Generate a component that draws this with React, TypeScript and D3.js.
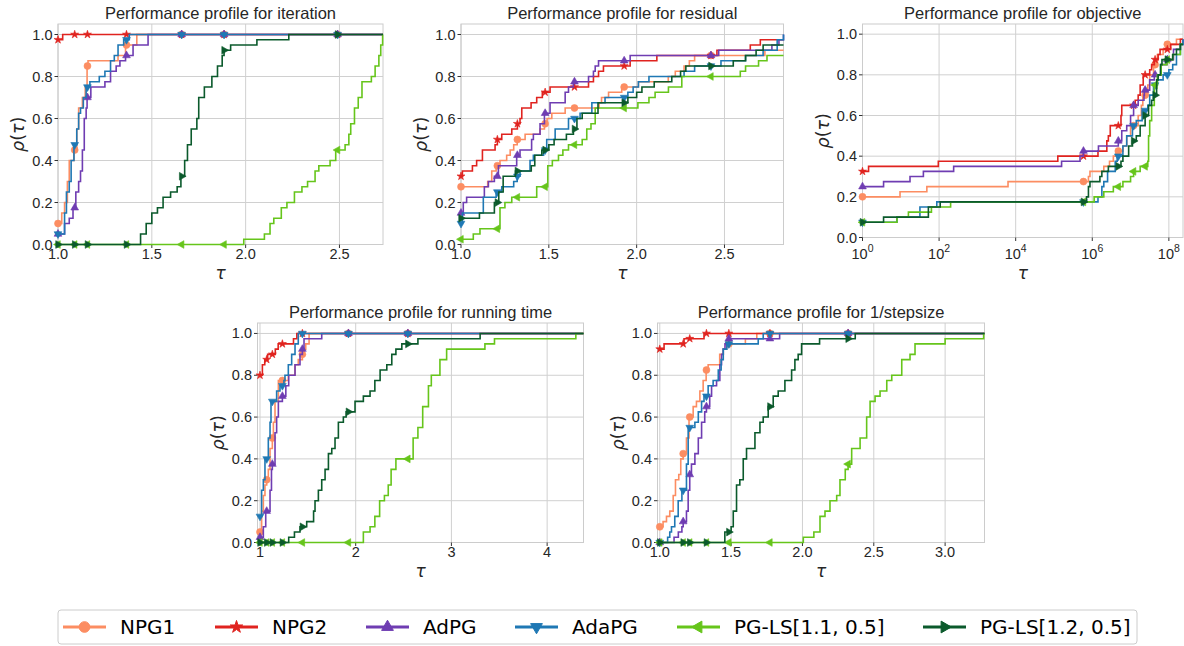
import React from 'react'
import * as d3 from 'd3'

type Pt = [number, number]

const methods = ['NPG1', 'NPG2', 'AdPG', 'AdaPG', 'PG-LS[1.1, 0.5]', 'PG-LS[1.2, 0.5]']
const colors = ['#fc8d62', '#e0231f', '#6f3db2', '#1f78b4', '#66c51b', '#0b5a2c']
const shapes = ['circle', 'star', 'up', 'down', 'left', 'right']

const rhoTicks = [0, 0.2, 0.4, 0.6, 0.8, 1.0]

// iteration
const iterTicks = [1.0, 1.5, 2.0, 2.5]
const iterMarks = [1.0, 1.089, 1.157, 1.365, 1.659, 1.885, 2.49]
const iterNPG1: Pt[] = [[1, 0.1], [1.02, 0.15], [1.035, 0.2], [1.05, 0.3], [1.06, 0.4], [1.085, 0.45], [1.1, 0.55], [1.11, 0.65], [1.13, 0.7], [1.145, 0.75], [1.155, 0.85], [1.16, 0.875], [1.32, 0.9], [1.36, 0.95], [1.42, 1.0]]
const iterNPG2: Pt[] = [[1, 0.975], [1.025, 1.0]]
const iterAdPG: Pt[] = [[1, 0.05], [1.035, 0.1], [1.06, 0.125], [1.08, 0.175], [1.095, 0.25], [1.11, 0.3], [1.12, 0.35], [1.13, 0.45], [1.14, 0.6], [1.15, 0.65], [1.155, 0.7], [1.175, 0.75], [1.25, 0.775], [1.28, 0.825], [1.31, 0.85], [1.33, 0.875], [1.36, 0.9], [1.4, 0.95], [1.48, 1.0]]
const iterAdaPG: Pt[] = [[1, 0.05], [1.035, 0.15], [1.045, 0.25], [1.06, 0.3], [1.07, 0.4], [1.085, 0.475], [1.1, 0.55], [1.11, 0.625], [1.12, 0.65], [1.135, 0.7], [1.15, 0.75], [1.17, 0.775], [1.22, 0.8], [1.25, 0.825], [1.28, 0.875], [1.3, 0.9], [1.32, 0.95], [1.35, 0.975], [1.38, 1.0]]
const iterLS11: Pt[] = [[1, 0], [1.99, 0.025], [2.1, 0.05], [2.13, 0.1], [2.15, 0.125], [2.19, 0.175], [2.22, 0.2], [2.26, 0.25], [2.3, 0.275], [2.33, 0.3], [2.37, 0.35], [2.39, 0.375], [2.45, 0.4], [2.48, 0.45], [2.53, 0.475], [2.55, 0.525], [2.56, 0.575], [2.58, 0.65], [2.6, 0.7], [2.62, 0.775], [2.67, 0.8], [2.69, 0.85], [2.71, 0.9], [2.72, 0.95], [2.73, 1.0]]
const iterLS12: Pt[] = [[1, 0], [1.44, 0.05], [1.47, 0.1], [1.5, 0.15], [1.53, 0.175], [1.56, 0.225], [1.6, 0.25], [1.635, 0.275], [1.655, 0.325], [1.675, 0.4], [1.69, 0.475], [1.71, 0.55], [1.74, 0.6], [1.75, 0.7], [1.78, 0.75], [1.82, 0.8], [1.85, 0.85], [1.875, 0.9], [1.885, 0.925], [1.92, 0.95], [2.06, 0.975], [2.23, 1.0]]

// residual
const resTicks = [1.0, 1.5, 2.0, 2.5]
const resMarks = [1.0, 1.207, 1.321, 1.479, 1.646, 1.929, 2.423]
const resNPG1: Pt[] = [[1, 0.275], [1.152, 0.3], [1.175, 0.35], [1.2, 0.375], [1.222, 0.4], [1.26, 0.425], [1.28, 0.45], [1.3, 0.475], [1.32, 0.5], [1.365, 0.525], [1.45, 0.55], [1.475, 0.575], [1.49, 0.6], [1.517, 0.625], [1.593, 0.65], [1.786, 0.675], [1.8, 0.7], [1.84, 0.725], [1.915, 0.75], [2.01, 0.775], [2.18, 0.8], [2.22, 0.825], [2.27, 0.85], [2.3, 0.875], [2.33, 0.9], [2.73, 0.925]]
const resNPG2: Pt[] = [[1, 0.325], [1.008, 0.35], [1.065, 0.375], [1.089, 0.4], [1.122, 0.45], [1.194, 0.475], [1.207, 0.5], [1.232, 0.525], [1.289, 0.55], [1.321, 0.575], [1.336, 0.6], [1.346, 0.65], [1.399, 0.675], [1.431, 0.7], [1.463, 0.725], [1.507, 0.75], [1.726, 0.775], [1.754, 0.8], [1.783, 0.825], [1.811, 0.85], [1.963, 0.875], [2.115, 0.9], [2.457, 0.925], [2.647, 0.95], [2.704, 0.975]]
const resAdPG: Pt[] = [[1, 0.15], [1.013, 0.2], [1.032, 0.225], [1.133, 0.275], [1.156, 0.3], [1.19, 0.325], [1.213, 0.375], [1.317, 0.425], [1.336, 0.45], [1.402, 0.5], [1.412, 0.525], [1.45, 0.575], [1.475, 0.625], [1.507, 0.675], [1.593, 0.725], [1.612, 0.75], [1.64, 0.775], [1.726, 0.8], [1.754, 0.825], [1.764, 0.85], [1.783, 0.875], [1.963, 0.9], [2.467, 0.925], [2.77, 0.95], [2.81, 0.975], [2.836, 1.0]]
const resAdaPG: Pt[] = [[1, 0.1], [1.008, 0.15], [1.127, 0.225], [1.2, 0.25], [1.232, 0.275], [1.3, 0.3], [1.32, 0.325], [1.336, 0.35], [1.393, 0.4], [1.412, 0.425], [1.47, 0.45], [1.488, 0.5], [1.536, 0.55], [1.612, 0.6], [1.678, 0.625], [1.745, 0.675], [1.82, 0.7], [1.95, 0.725], [1.98, 0.75], [2.01, 0.775], [2.07, 0.8], [2.27, 0.825], [2.33, 0.85], [2.48, 0.875], [2.62, 0.9], [2.72, 0.925], [2.8, 0.975], [2.836, 1.0]]
const resLS11: Pt[] = [[1, 0.025], [1.07, 0.05], [1.108, 0.075], [1.222, 0.175], [1.25, 0.2], [1.289, 0.225], [1.431, 0.275], [1.494, 0.375], [1.52, 0.4], [1.555, 0.425], [1.58, 0.45], [1.612, 0.475], [1.69, 0.5], [1.716, 0.55], [1.74, 0.575], [1.764, 0.65], [2.007, 0.675], [2.07, 0.7], [2.105, 0.725], [2.181, 0.75], [2.257, 0.8], [2.59, 0.825], [2.62, 0.85], [2.694, 0.875], [2.742, 0.9]]
const resLS12: Pt[] = [[1, 0.125], [1.105, 0.15], [1.19, 0.2], [1.215, 0.25], [1.24, 0.325], [1.31, 0.35], [1.4, 0.375], [1.42, 0.425], [1.46, 0.45], [1.5, 0.475], [1.53, 0.5], [1.6, 0.525], [1.64, 0.55], [1.66, 0.6], [1.69, 0.625], [1.78, 0.675], [1.95, 0.7], [2.0, 0.725], [2.03, 0.75], [2.1, 0.775], [2.2, 0.8], [2.25, 0.825], [2.28, 0.85], [2.55, 0.875], [2.62, 0.9], [2.68, 0.925], [2.72, 0.95]]

// objective (log tau)
const objTicks = [1, 1e2, 1e4, 1e6, 1e8]
const objMarks = [1, 5.89e5, 4.79e6, 1.2e7, 2.4e7, 4.37e7, 9.12e7]
const objNPG1: Pt[] = [[1, 0.2], [9.55, 0.225], [47.9, 0.25], [6310, 0.275], [7.94e5, 0.3], [8.71e5, 0.325], [2.0e6, 0.35], [2.82e6, 0.375], [3.55e6, 0.4], [4.17e6, 0.425], [6.31e6, 0.45], [7.94e6, 0.5], [1.0e7, 0.55], [1.58e7, 0.6], [1.91e7, 0.65], [2.09e7, 0.7], [2.82e7, 0.75], [3.16e7, 0.8], [3.98e7, 0.85], [5.01e7, 0.9], [7.08e7, 0.925], [8.32e7, 0.95], [1.58e8, 0.975]]
const objNPG2: Pt[] = [[1, 0.325], [1.44, 0.35], [95.5, 0.375], [1.26e5, 0.4], [1.41e6, 0.425], [2.4e6, 0.475], [2.63e6, 0.5], [2.95e6, 0.55], [5.62e6, 0.6], [5.89e6, 0.65], [1.32e7, 0.675], [1.58e7, 0.7], [1.78e7, 0.75], [2.14e7, 0.8], [3.16e7, 0.825], [3.55e7, 0.85], [4.17e7, 0.875], [5.25e7, 0.9], [5.89e7, 0.925], [1.12e8, 0.95], [2.0e8, 0.975]]
const objAdPG: Pt[] = [[1, 0.25], [3.55, 0.275], [17.4, 0.3], [38.9, 0.325], [240, 0.35], [1.58e5, 0.375], [4.79e5, 0.4], [5.89e5, 0.425], [1.45e6, 0.45], [4.79e6, 0.475], [5.89e6, 0.525], [7.94e6, 0.55], [1.0e7, 0.6], [1.2e7, 0.65], [1.58e7, 0.675], [2.24e7, 0.7], [2.29e7, 0.725], [3.16e7, 0.775], [4.17e7, 0.8], [6.31e7, 0.85], [8.91e7, 0.875], [1.32e8, 0.925], [2.0e8, 0.95], [2.34e8, 0.975]]
const objAdaPG: Pt[] = [[1, 0.075], [7.94, 0.1], [31.6, 0.15], [87.1, 0.175], [1.41e6, 0.2], [1.78e6, 0.25], [2.0e6, 0.275], [2.51e6, 0.325], [3.98e6, 0.375], [4.47e6, 0.4], [6.31e6, 0.45], [7.94e6, 0.5], [1.12e7, 0.55], [1.41e7, 0.575], [2.0e7, 0.625], [2.82e7, 0.65], [3.16e7, 0.7], [3.98e7, 0.75], [5.01e7, 0.775], [7.08e7, 0.8], [1.0e8, 0.825], [1.26e8, 0.85], [1.58e8, 0.9], [2.0e8, 0.95], [2.34e8, 0.975]]
const objLS11: Pt[] = [[1, 0.075], [7.94, 0.1], [15.8, 0.125], [63.1, 0.15], [200, 0.175], [1.12e6, 0.2], [2.0e6, 0.225], [3.55e6, 0.25], [6.31e6, 0.275], [1.0e7, 0.3], [1.2e7, 0.325], [1.78e7, 0.35], [2.82e7, 0.375], [2.95e7, 0.5], [3.16e7, 0.575], [3.55e7, 0.65], [4.17e7, 0.75], [5.01e7, 0.8], [6.31e7, 0.85], [8.91e7, 0.875], [1.26e8, 0.9], [2.0e8, 0.95]]
const objLS12: Pt[] = [[1, 0.075], [3.55, 0.1], [52.5, 0.15], [107, 0.175], [7.08e5, 0.2], [7.94e5, 0.25], [8.71e5, 0.275], [1.58e6, 0.3], [1.78e6, 0.325], [2.63e6, 0.35], [5.62e6, 0.375], [6.31e6, 0.4], [8.91e6, 0.45], [1.12e7, 0.475], [1.41e7, 0.5], [1.78e7, 0.55], [2.4e7, 0.6], [2.95e7, 0.65], [3.55e7, 0.675], [3.98e7, 0.7], [4.79e7, 0.775], [5.25e7, 0.8], [6.03e7, 0.85], [6.61e7, 0.875], [1.26e8, 0.9], [1.58e8, 0.925], [2.0e8, 0.95]]

// running time
const runTicks = [1, 2, 3, 4]
const runMarks = [1.0, 1.07, 1.129, 1.234, 1.443, 1.924, 2.545]
const runNPG1: Pt[] = [[1, 0.05], [1.017, 0.15], [1.035, 0.225], [1.052, 0.275], [1.07, 0.3], [1.087, 0.35], [1.105, 0.45], [1.129, 0.5], [1.14, 0.575], [1.157, 0.675], [1.192, 0.775], [1.296, 0.8], [1.366, 0.85], [1.4, 0.875], [1.443, 0.9], [1.46, 0.925], [1.478, 0.95], [1.513, 1.0]]
const runNPG2: Pt[] = [[1, 0.8], [1.025, 0.85], [1.05, 0.875], [1.08, 0.9], [1.16, 0.925], [1.19, 0.95], [1.35, 0.975], [1.385, 1.0]]
const runAdPG: Pt[] = [[1, 0.025], [1.035, 0.075], [1.06, 0.15], [1.105, 0.25], [1.12, 0.35], [1.129, 0.375], [1.157, 0.525], [1.174, 0.6], [1.192, 0.675], [1.234, 0.7], [1.27, 0.75], [1.3, 0.8], [1.366, 0.85], [1.418, 0.9], [1.443, 0.925], [1.46, 0.975], [1.645, 1.0]]
const runAdaPG: Pt[] = [[1, 0.125], [1.017, 0.25], [1.035, 0.3], [1.052, 0.4], [1.087, 0.5], [1.105, 0.575], [1.115, 0.675], [1.174, 0.725], [1.209, 0.75], [1.25, 0.775], [1.261, 0.8], [1.296, 0.85], [1.331, 0.9], [1.366, 0.95], [1.4, 1.0]]
const runLS11: Pt[] = [[1, 0], [2.08, 0.05], [2.15, 0.075], [2.2, 0.125], [2.25, 0.2], [2.3, 0.225], [2.34, 0.275], [2.37, 0.35], [2.42, 0.4], [2.6, 0.5], [2.65, 0.55], [2.7, 0.65], [2.76, 0.75], [2.79, 0.8], [2.88, 0.875], [2.95, 0.925], [3.35, 0.95], [3.45, 0.975], [4.3, 1.0]]
const runLS12: Pt[] = [[1, 0], [1.3, 0.025], [1.36, 0.05], [1.418, 0.075], [1.488, 0.1], [1.56, 0.15], [1.575, 0.2], [1.61, 0.25], [1.645, 0.3], [1.68, 0.35], [1.715, 0.425], [1.75, 0.45], [1.784, 0.5], [1.819, 0.575], [1.871, 0.6], [1.9, 0.625], [1.993, 0.675], [2.08, 0.7], [2.15, 0.725], [2.2, 0.775], [2.255, 0.825], [2.325, 0.85], [2.377, 0.9], [2.42, 0.925], [2.482, 0.95], [2.65, 0.975], [3.3, 1.0]]

// 1/stepsize
const stepTicks = [1.0, 1.5, 2.0, 2.5, 3.0]
const stepMarks = [1.0, 1.164, 1.21, 1.327, 1.484, 1.772, 2.32]
const stepNPG1: Pt[] = [[1, 0.075], [1.023, 0.1], [1.047, 0.125], [1.07, 0.15], [1.094, 0.225], [1.11, 0.3], [1.133, 0.325], [1.147, 0.4], [1.164, 0.425], [1.187, 0.5], [1.205, 0.6], [1.234, 0.65], [1.257, 0.675], [1.281, 0.725], [1.304, 0.775], [1.325, 0.825], [1.339, 0.85], [1.42, 0.9], [1.445, 0.925], [1.468, 0.95], [1.6, 0.975], [1.68, 1.0]]
const stepNPG2: Pt[] = [[1, 0.925], [1.03, 0.95], [1.17, 0.975], [1.31, 1.0]]
const stepAdPG: Pt[] = [[1, 0], [1.1, 0.025], [1.13, 0.05], [1.155, 0.075], [1.164, 0.1], [1.187, 0.15], [1.199, 0.25], [1.21, 0.325], [1.222, 0.375], [1.246, 0.425], [1.27, 0.5], [1.293, 0.575], [1.315, 0.625], [1.327, 0.65], [1.35, 0.7], [1.363, 0.75], [1.398, 0.775], [1.421, 0.85], [1.433, 0.9], [1.445, 0.925], [1.457, 0.95], [1.484, 0.975], [1.84, 1.0]]
const stepAdaPG: Pt[] = [[1, 0], [1.055, 0.025], [1.07, 0.05], [1.082, 0.075], [1.105, 0.125], [1.129, 0.2], [1.155, 0.25], [1.187, 0.375], [1.199, 0.55], [1.246, 0.575], [1.27, 0.625], [1.293, 0.675], [1.31, 0.7], [1.339, 0.75], [1.374, 0.775], [1.41, 0.825], [1.43, 0.875], [1.445, 0.925], [1.47, 0.95], [1.69, 0.975], [1.725, 1.0]]
const stepLS11: Pt[] = [[1, 0], [2.006, 0.025], [2.08, 0.05], [2.123, 0.125], [2.158, 0.15], [2.193, 0.2], [2.24, 0.225], [2.263, 0.3], [2.3, 0.35], [2.32, 0.375], [2.345, 0.45], [2.404, 0.5], [2.45, 0.6], [2.474, 0.675], [2.509, 0.7], [2.544, 0.725], [2.591, 0.775], [2.626, 0.8], [2.696, 0.875], [2.754, 0.9], [2.789, 0.95], [3.0, 0.975], [3.27, 1.0]]
const stepLS12: Pt[] = [[1, 0], [1.456, 0.05], [1.5, 0.075], [1.515, 0.15], [1.538, 0.275], [1.561, 0.3], [1.585, 0.4], [1.608, 0.45], [1.667, 0.525], [1.702, 0.575], [1.725, 0.6], [1.76, 0.65], [1.795, 0.7], [1.83, 0.725], [1.877, 0.775], [1.924, 0.825], [1.947, 0.875], [1.97, 0.9], [1.994, 0.95], [2.12, 0.975], [2.37, 1.0]]

const panels = [
  {
    title: 'Performance profile for iteration', log: false, domain: [1, 2.732], ticks: iterTicks, marks: iterMarks,
    box: { left: 58, top: 24, width: 325, height: 220.5 },
    series: [iterNPG1, iterNPG2, iterAdPG, iterAdaPG, iterLS11, iterLS12],
  },
  {
    title: 'Performance profile for residual', log: false, domain: [1, 2.836], ticks: resTicks, marks: resMarks,
    box: { left: 461, top: 24, width: 322.5, height: 220.5 },
    series: [resNPG1, resNPG2, resAdPG, resAdaPG, resLS11, resLS12],
  },
  {
    title: 'Performance profile for objective', log: true, domain: [1, 2.34e8], ticks: objTicks, marks: objMarks,
    box: { left: 862.5, top: 24, width: 320.5, height: 213.5 },
    series: [objNPG1, objNPG2, objAdPG, objAdaPG, objLS11, objLS12],
  },
  {
    title: 'Performance profile for running time', log: false, domain: [0.974, 4.38], ticks: runTicks, marks: runMarks,
    box: { left: 257.5, top: 323, width: 326, height: 219.5 },
    series: [runNPG1, runNPG2, runAdPG, runAdaPG, runLS11, runLS12],
  },
  {
    title: 'Performance profile for 1/stepsize', log: false, domain: [0.984, 3.276], ticks: stepTicks, marks: stepMarks,
    box: { left: 657.5, top: 323, width: 327, height: 219.5 },
    series: [stepNPG1, stepNPG2, stepAdPG, stepAdaPG, stepLS11, stepLS12],
  },
]

const sansFont = '"Liberation Sans", Arial, sans-serif'
const dejaFont = '"DejaVu Sans", sans-serif'
const ink = '#262626'

function symbolPath(shape, size) {
  const type = shape === 'circle' ? d3.symbolCircle : shape === 'star' ? d3.symbolStar : d3.symbolTriangle
  return d3.symbol().type(type).size(size)()
}
const rotation = { circle: 0, star: 0, up: 0, down: 180, left: -90, right: 90 }

function valueAt(s: Pt[], t: number) {
  let r = s[0][1]
  for (const d of s) if (d[0] <= t * (1 + 1e-9)) r = d[1]
  return r
}

function Panel({ p }) {
  const { left, top, width, height } = p.box
  const bottom = top + height
  const x = (p.log ? d3.scaleLog() : d3.scaleLinear()).domain(p.domain).range([left, left + width])
  const y = d3.scaleLinear().domain([0, 1.05]).range([bottom, top])
  const line = d3.line<Pt>().x(d => x(d[0])).y(d => y(d[1])).curve(d3.curveStepAfter)
  const xMax = p.domain[1]
  const intTicks = p.ticks.every(v => Number.isInteger(v))

  return (
    <g>
      <text x={left + width / 2} y={top - 5.5} textAnchor="middle" fontFamily={sansFont} fontSize={16.5} fill={ink}>
        {p.title}
      </text>
      {p.ticks.map((t, i) => (
        <line key={'gx' + i} x1={x(t)} x2={x(t)} y1={top} y2={bottom} stroke="#d0d0d0" strokeWidth={1} />
      ))}
      {rhoTicks.map((t, i) => (
        <line key={'gy' + i} x1={left} x2={left + width} y1={y(t)} y2={y(t)} stroke="#d0d0d0" strokeWidth={1} />
      ))}
      <rect x={left} y={top} width={width} height={height} fill="none" stroke="#cccccc" strokeWidth={1} />
      {p.ticks.map((t, i) => (
        <g key={'tx' + i}>
          <line x1={x(t)} x2={x(t)} y1={bottom} y2={bottom + 3.5} stroke="#333" strokeWidth={1} />
          {p.log ? (
            <text x={x(t)} y={bottom + 21} textAnchor="middle" fontFamily={sansFont} fontSize={14.5} fill={ink}>
              10<tspan dy={-7} fontSize={10.5}>{Math.round(Math.log10(t))}</tspan>
            </text>
          ) : (
            <text x={x(t)} y={bottom + 14.5} textAnchor="middle" fontFamily={sansFont} fontSize={14.5} fill={ink}>
              {intTicks ? d3.format('d')(t) : d3.format('.1f')(t)}
            </text>
          )}
        </g>
      ))}
      {rhoTicks.map((t, i) => (
        <g key={'ty' + i}>
          <line x1={left - 3.5} x2={left} y1={y(t)} y2={y(t)} stroke="#333" strokeWidth={1} />
          <text x={left - 5.5} y={y(t) + 5} textAnchor="end" fontFamily={sansFont} fontSize={14.5} fill={ink}>
            {d3.format('.1f')(t)}
          </text>
        </g>
      ))}
      <text x={left + width / 2} y={bottom + (p.log ? 41 : 34.5)} textAnchor="middle" fontFamily={dejaFont} fontSize={17} fontStyle="italic" fill={ink}>
        τ
      </text>
      <text transform={`translate(${left - 34},${top + height / 2}) rotate(-90)`} textAnchor="middle" fontFamily={dejaFont} fontSize={17.5} fill={ink}>
        <tspan fontStyle="italic">ρ</tspan>(<tspan fontStyle="italic">τ</tspan>)
      </text>
      {p.series.map((s: Pt[], k) => {
        const pts: Pt[] = [...s, [xMax, s[s.length - 1][1]]]
        return (
          <g key={'s' + k}>
            <path d={line(pts) || ''} fill="none" stroke={colors[k]} strokeWidth={1.6} />
            {p.marks.map((t, j) => (
              <path key={j} d={symbolPath(shapes[k], shapes[k] === 'circle' ? 38 : shapes[k] === 'star' ? 20 : 26)}
                transform={`translate(${x(t)},${y(valueAt(s, t))}) rotate(${rotation[shapes[k]]})`}
                fill={colors[k]} stroke={colors[k]} strokeWidth={0.6} />
            ))}
          </g>
        )
      })}
    </g>
  )
}

function Legend() {
  const starts = [63, 215, 366, 515, 677, 923]
  const cy = 627
  return (
    <g>
      <rect x={58} y={610} width={1079} height={34} rx={3} fill="#fff" stroke="#cccccc" strokeWidth={1} />
      {methods.map((m, k) => (
        <g key={m}>
          <line x1={starts[k]} x2={starts[k] + 43} y1={cy} y2={cy} stroke={colors[k]} strokeWidth={2.8} />
          <path d={symbolPath(shapes[k], shapes[k] === 'circle' ? 90 : shapes[k] === 'star' ? 48 : 60)}
            transform={`translate(${starts[k] + 21.5},${cy}) rotate(${rotation[shapes[k]]})`} fill={colors[k]} stroke={colors[k]} />
          <text x={starts[k] + 57} y={cy + 7} fontFamily={dejaFont} fontSize={20} fill="#000">{m}</text>
        </g>
      ))}
    </g>
  )
}

export default function App() {
  return (
    <svg width={1184} height={646} style={{ position: 'absolute', left: 0, top: 0, background: '#fff' }}>
      <rect width={1184} height={646} fill="#fff" />
      {panels.map((p, i) => <Panel key={i} p={p} />)}
      <Legend />
    </svg>
  )
}
